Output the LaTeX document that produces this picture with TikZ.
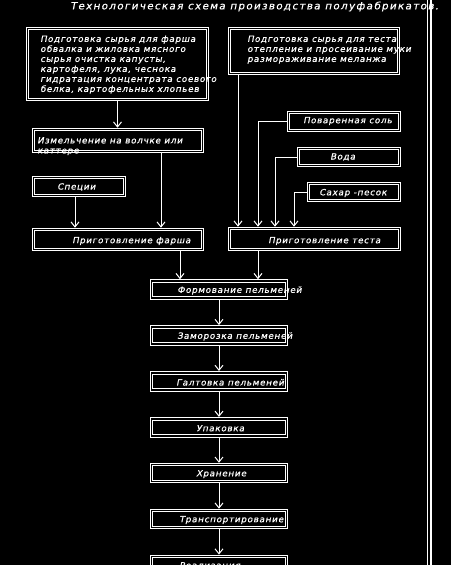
\documentclass[tikz,border=0pt]{standalone}
\usepackage{fontspec}
\newfontfamily\cadfont[LetterSpace=8,FakeSlant=0.2,FakeStretch=1.04,FakeBold=0.6]{DejaVu Sans}
\usetikzlibrary{arrows.meta}

\begin{document}
\begin{tikzpicture}[x=1pt, y=-1pt,
	box/.style={draw=white, double=black, double distance=1.6pt, line width=1pt, outer sep=1.8pt, inner sep=0pt},
	txt/.style={text=white, anchor=west, inner sep=0pt, font=\cadfont\fontsize{8.5}{10}\selectfont},
	arr/.style={draw=white, line width=1pt, -{Straight Barb[length=5pt, width=8pt]}}]
	\useasboundingbox[fill=black] (0, 0) rectangle (451, 565);
	
	% frame lines on the right
	\draw[white, line width=1pt] (427.5, 0) -- (427.5, 565);
	\draw[white, line width=1.3pt] (431, 0) -- (431, 565);
	
	\node[txt, font=\cadfont\addfontfeature{LetterSpace=13}\fontsize{10}{11}\selectfont] (title) at (70, 6.5) {Технологическая схема производства полуфабрикатов.};
	
	% raw materials
	\node[box, minimum width=180pt, minimum height=71pt] (prep-farsh) at (117.5, 64) {};
	\node[txt, anchor=north west, align=left] (prep-farsh-t) at (40, 35.5) {Подготовка сырья для фарша\\обвалка и жиловка мясного\\сырья очистка капусты,\\картофеля, лука, чеснока\\гидратация концентрата соевого\\белка, картофельных хлопьев};
	
	\node[box, minimum width=169pt, minimum height=45pt] (prep-testo) at (314, 51) {};
	\node[txt, anchor=north west, align=left] (prep-testo-t) at (247, 35.5) {Подготовка сырья для теста\\отепление и просеивание муки\\размораживание меланжа};
	
	% filling
	\node[box, minimum width=169pt, minimum height=22pt] (mince) at (118, 140.5) {};
	\node[txt, anchor=north west, align=left] (mince-t) at (37, 137) {Измельчение на волчке или\\каттере};
	
	\node[box, minimum width=91pt, minimum height=18pt] (spice) at (79, 186.5) {};
	\node[txt] (spice-t) at (57, 187) {Специи};
	
	\node[box, minimum width=169pt, minimum height=20pt] (farsh) at (118, 239.5) {};
	\node[txt] (farsh-t) at (72, 241) {Приготовление фарша};
	
	% dough
	\node[box, minimum width=111pt, minimum height=18pt] (salt) at (344, 121.5) {};
	\node[txt] (salt-t) at (303, 121) {Поваренная соль};
	
	\node[box, minimum width=101pt, minimum height=17pt] (water) at (349, 157) {};
	\node[txt] (water-t) at (330, 157) {Вода};
	
	\node[box, minimum width=91pt, minimum height=17pt] (sugar) at (354, 192) {};
	\node[txt] (sugar-t) at (319, 193) {Сахар -песок};
	
	\node[box, minimum width=170pt, minimum height=21pt] (testo) at (314.5, 239) {};
	\node[txt] (testo-t) at (268, 241) {Приготовление теста};
	
	% main chain
	\foreach \tx/\txt [count=\i from 0] in {177/Формование пельменей, 177/Заморозка пельменей, 176/Галтовка пельменей, 196/Упаковка, 196/Хранение, 179/Транспортирование, 179/Реализация} {
		\node[box, minimum width=135pt, minimum height=17pt] (stage-\i) at (219, 289.5 + 45.9*\i) {};
		\node[txt] (stage-\i-t) at (\tx, 290.5 + 45.9*\i) {\txt};
	}
	
	\draw[arr] (prep-farsh.south) -- (prep-farsh.south |- mince.north);
	\draw[arr] ([xshift=43pt]mince.south) -- ([xshift=43pt]mince.south |- farsh.north);
	\draw[arr] ([xshift=-4pt]spice.south) -- ([xshift=-4pt]spice.south |- farsh.north);
	
	\draw[arr] ([xshift=-76pt]prep-testo.south) -- ([xshift=-76pt]prep-testo.south |- testo.north);
	\draw[arr] (salt.west) -| ([xshift=-56.5pt]testo.north);
	\draw[arr] (water.west) -| ([xshift=-39.5pt]testo.north);
	\draw[arr] (sugar.west) -| ([xshift=-20.5pt]testo.north);
	
	\draw[arr] ([xshift=62pt]farsh.south) -- ([xshift=62pt]farsh.south |- stage-0.north);
	\draw[arr] ([xshift=-56.5pt]testo.south) -- ([xshift=-56.5pt]testo.south |- stage-0.north);
	
	\foreach \i [evaluate=\i as \j using int(\i-1)] in {1,...,6}
		\draw[arr] (stage-\j.south) -- (stage-\i.north);
\end{tikzpicture}
\end{document}
